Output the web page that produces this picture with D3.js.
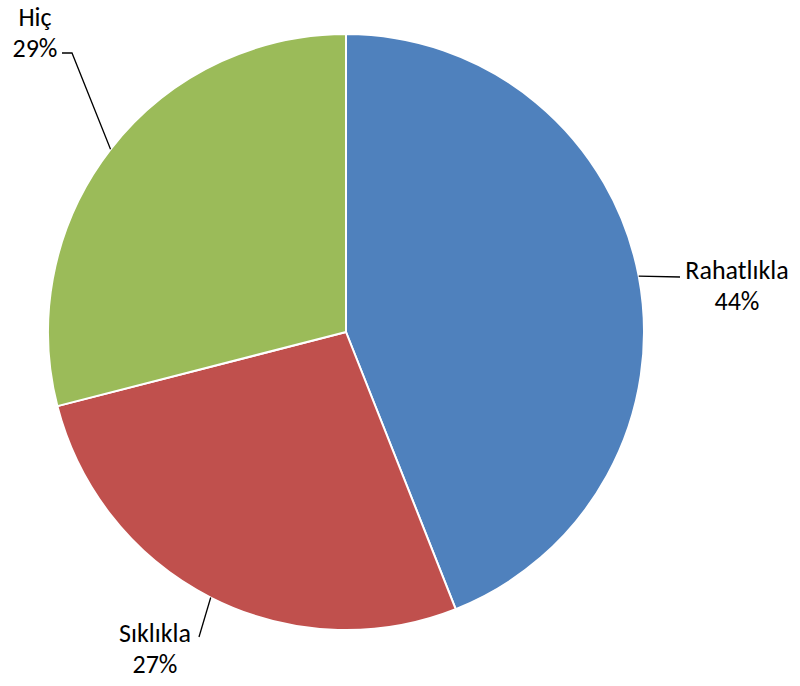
<!DOCTYPE html>
<html>
<head>
<meta charset="utf-8">
<script src="https://cdn.jsdelivr.net/npm/d3@7"></script>
<style>
  body { margin: 0; background: #fff; }
  svg text { font-family: Carlito, Calibri, Lato, sans-serif; font-size: 26px; fill: #000; }
</style>
</head>
<body>
<svg id="chart" width="800" height="686"></svg>
<script>
// chart data
const categories = ["Rahatlıkla", "Sıklıkla", "Hiç"];
const values = [44, 27, 29];
const colors = ["#4F81BD", "#C0504D", "#9BBB59"];

// label placement (block centre of the two text lines, leader end point)
const labelLayout = [
  { cx: 737, cy: 270, end: [[680, 277]] },
  { cx: 155, cy: 633, end: [[199, 637]] },
  { cx: 35, cy: 17, end: [[72, 53], [62, 53]] }
];

const width = 800, height = 686;
const cx = 346, cy = 332, radius = 298;
const svg = d3.select("#chart");

let pie = d3.pie().sort(null).value(d => d.value);
let arcs = pie(categories.map((c, i) => ({ name: c, value: values[i], color: colors[i] })));

let arc = d3.arc().innerRadius(0).outerRadius(radius);

let g = svg.append("g").attr("transform", `translate(${cx},${cy})`);

g.selectAll("path")
  .data(arcs)
  .enter().append("path")
    .attr("d", arc)
    .attr("fill", d => d.data.color)
    .attr("stroke", "#fff")
    .attr("stroke-width", 2)
    .attr("stroke-linejoin", "round");

let total = d3.sum(values);

// leader lines start on the arc at the slice middle
arcs.forEach((d, i) => {
  let mid = (d.startAngle + d.endAngle) / 2;
  let start = [cx + radius * Math.sin(mid), cy - radius * Math.cos(mid)];
  let pts = [start].concat(labelLayout[i].end);
  svg.append("path")
    .attr("d", d3.line()(pts))
    .attr("fill", "none")
    .attr("stroke", "#000")
    .attr("stroke-width", 1.3);

  let t = svg.append("text")
    .attr("text-anchor", "middle")
    .attr("x", labelLayout[i].cx);
  t.append("tspan")
    .attr("x", labelLayout[i].cx)
    .attr("y", labelLayout[i].cy)
    .attr("dy", "0.35em")
    .text(d.data.name);
  t.append("tspan")
    .attr("x", labelLayout[i].cx)
    .attr("y", labelLayout[i].cy + 31)
    .attr("dy", "0.35em")
    .text(Math.round(d.data.value / total * 100) + "%");
});
</script>
</body>
</html>
